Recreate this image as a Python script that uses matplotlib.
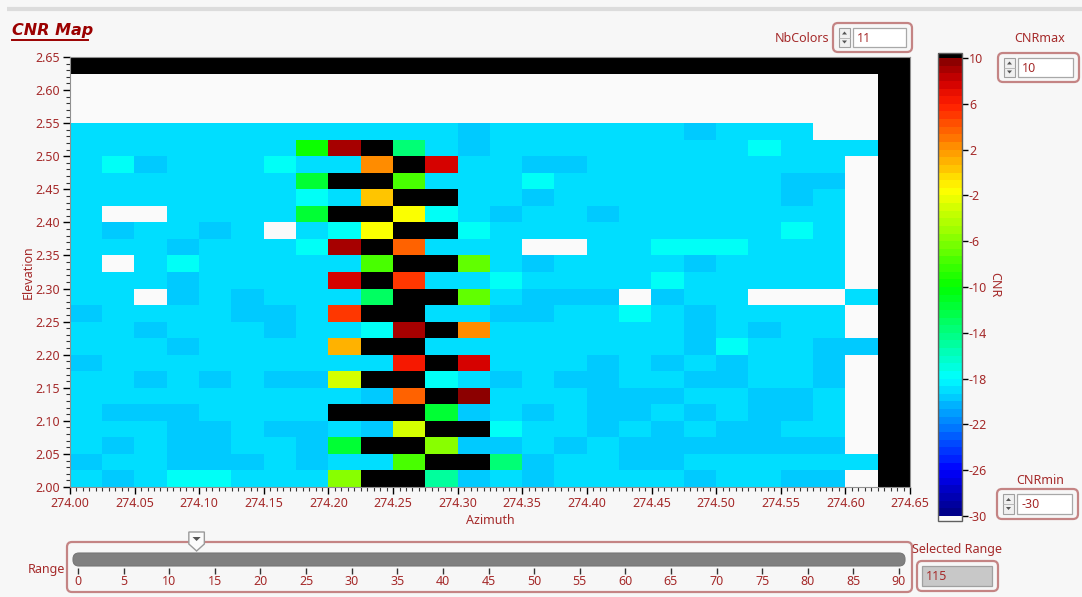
import numpy as np
import matplotlib
matplotlib.use("Agg")
import matplotlib.pyplot as plt
from matplotlib.colors import LinearSegmentedColormap, ListedColormap, Normalize
from matplotlib.patches import FancyBboxPatch, Rectangle, Polygon
from matplotlib.ticker import MultipleLocator, FormatStrFormatter

plt.rcParams['font.family'] = ['Noto Sans', 'DejaVu Sans']

# ========= DATA =========
azimuth_range = (274.00, 274.65)
elevation_range = (2.00, 2.65)
cnr_min, cnr_max = -30, 10
nb_colors = 11
range_value = 13
selected_range = 115
range_ticks = list(range(0, 95, 5))
cbar_ticks = [10, 6, 2, -2, -6, -10, -14, -18, -22, -26, -30]

# CNR value for each cell code (K = above CNRmax, W = below CNRmin)
cnr_codes = {
    'c': -19.0, 'b': -20.0, 'C': -18.0,
    'R': 9.0, 'D': 9.6, 'r': 7.5, 'E': 6.0, 'e': 5.2, 'o': 3.8, 'O': 2.0,
    'a': 1.0, 'g': 0.0, 'y': -1.5, 'l': -3.0, 'L': -5.5, 'm': -7.0,
    'M': -8.0, 'G': -10.0, 'h': -12.0, 's': -13.0, 'S': -14.0, 'T': -15.0,
    'K': 99.0, 'W': -99.0,
}

# scan rows, elevation 2.550 (top) down to 2.000, azimuth 274.000 -> 274.625
cnr_rows = [
    "ccccccccccccbccccccbcccWW",
    "cccccccGRKScbccccccccCccc",
    "cCbcccCccOKrccbbccccccccW",
    "ccccccchKKMcccCcccccccbbW",
    "cccccccCcgKKccbcccccccbcW",
    "cWWcccchKKyCcbccbcccccccW",
    "cbccbcWcCyKKCcccccccccCcW",
    "cccbcccCRKocccWWccCCCcccW",
    "cWcCcccccMKKmcbccccbccccW",
    "cccbccccrKeccCccccCcccccW",
    "ccWbcbcccsKKmcbbbWbccWWWc",
    "bccccbbceKKccbbccCcbccccW",
    "ccbcccbccCRKOccccccbcbccW",
    "cccbccccaKKccccccccbCccbb",
    "bcccccccccEKrcccbcbcbccbW",
    "ccbcbcbblKKCcbcbbccbbccbW",
    "cccccccccboKDcccbbbccbbcW",
    "cbbbccccKKKhbcbcbbcbcbbcW",
    "cccbbcbbcblKKCccbcbcbbccW",
    "cbcbbccbhKKLbbcbcbbbbbbbW",
    "bccbbbcbccMKKSbccbbcccccc",
    "cbcCCcccLKKTbcbccccbccbbW",
]

scan = np.array([[cnr_codes[ch] for ch in row] for row in cnr_rows])

# full 26 x 26 map: empty rows above the scan, saturated border row/column
grid = np.full((26, 26), cnr_codes['K'])
grid[1:4, :25] = cnr_codes['W']
grid[4:, :25] = scan

# ========= COLOURS =========
RED_TXT = '#a52a2a'
BORDER = '#c48484'

cmap_nodes = [
    (-30, '#000080'), (-26, '#0000ff'), (-22, '#0080ff'), (-18, '#00ffff'),
    (-14, '#00ff80'), (-10, '#00ff00'), (-6, '#80ff00'), (-1.5, '#ffff00'),
    (2, '#ff9600'), (6, '#ff1e00'), (8, '#d20000'), (10, '#800000'),
]
base = LinearSegmentedColormap.from_list(
    'cnr', [((v - cnr_min) / (cnr_max - cnr_min), c) for v, c in cmap_nodes])
cmap = ListedColormap(base((np.arange(60) + 0.5) / 60))
cmap.set_over('black')
cmap.set_under('#fafafa')
norm = Normalize(vmin=cnr_min, vmax=cnr_max)

# ========= FIGURE =========
W, H = 1082, 597
fig = plt.figure(figsize=(W / 100, H / 100), dpi=100, facecolor='#f7f7f7')


def frac(x0, y0, x1, y1):
    return [x0 / W, 1 - y1 / H, (x1 - x0) / W, (y1 - y0) / H]


# ---- intensity map ----
ax = fig.add_axes(frac(70, 57, 910, 487))
im = ax.imshow(grid, cmap=cmap, norm=norm, aspect='auto', interpolation='nearest',
               extent=[azimuth_range[0], azimuth_range[1],
                       elevation_range[0], elevation_range[1]])
ax.set_xlim(*azimuth_range)
ax.set_ylim(*elevation_range)
ax.xaxis.set_major_locator(MultipleLocator(0.05))
ax.xaxis.set_minor_locator(MultipleLocator(0.005))
ax.yaxis.set_major_locator(MultipleLocator(0.05))
ax.yaxis.set_minor_locator(MultipleLocator(0.01))
ax.xaxis.set_major_formatter(FormatStrFormatter('%.2f'))
ax.yaxis.set_major_formatter(FormatStrFormatter('%.2f'))
ax.tick_params(which='major', length=5, width=1, color='black',
               labelcolor=RED_TXT, labelsize=9, pad=2)
ax.tick_params(which='minor', length=3, width=0.8, color='#333333')
for s in ax.spines.values():
    s.set_color('#909090')
    s.set_linewidth(0.8)
ax.set_xlabel('Azimuth', color=RED_TXT, fontsize=9, labelpad=3)
ax.set_ylabel('Elevation', color=RED_TXT, fontsize=9, labelpad=1)

# ---- colour scale ----
cax = fig.add_axes(frac(938, 53, 962, 521))
cb = fig.colorbar(im, cax=cax, extend='both', extendrect=True,
                  extendfrac=0.011, ticks=cbar_ticks)
cb.outline.set_edgecolor('#606060')
cb.outline.set_linewidth(1.0)
cax.tick_params(length=4, width=1, color='black', labelcolor=RED_TXT,
                labelsize=9, pad=1)
cax.set_yticklabels([str(t) for t in cbar_ticks])
fig.text(995 / W, 1 - 285 / H, 'CNR', rotation=270, color=RED_TXT,
         fontsize=9, ha='center', va='center')

# ---- front panel decorations (pixel coordinates) ----
ui = fig.add_axes([0, 0, 1, 1], zorder=-1)
ui.set_xlim(0, W)
ui.set_ylim(H, 0)
ui.axis('off')

ui.plot([7, W], [9, 9], color='#dcdcdc', lw=3, solid_capstyle='butt')
ui.text(12, 31, 'CNR Map', color='#9b0000', fontsize=11.5, fontweight='bold',
        fontstyle='italic', family='DejaVu Sans', va='center', ha='left')
ui.plot([12, 88], [39.5, 39.5], color='#9b0000', lw=1.4)


def spin_box(x0, y0, x1, y1, value):
    ui.add_patch(FancyBboxPatch((x0, y0), x1 - x0, y1 - y0,
                                boxstyle='round,pad=0,rounding_size=5',
                                fc='#f7f7f7', ec=BORDER, lw=1.6))
    # up/down buttons
    bx0, by0, by1 = x0 + 6, y0 + 5, y1 - 5
    ui.add_patch(Rectangle((bx0, by0), 11, by1 - by0, fc='#f0f0f0',
                           ec='#a0a0a0', lw=0.8))
    mid = (by0 + by1) / 2
    ui.plot([bx0, bx0 + 11], [mid, mid], color='#b0b0b0', lw=0.6)
    ui.add_patch(Polygon([[bx0 + 3, mid - 3], [bx0 + 8, mid - 3],
                          [bx0 + 5.5, mid - 6]], fc='#555555', ec='none'))
    ui.add_patch(Polygon([[bx0 + 3, mid + 3], [bx0 + 8, mid + 3],
                          [bx0 + 5.5, mid + 6]], fc='#555555', ec='none'))
    # entry field
    ui.add_patch(Rectangle((x0 + 20, y0 + 5), x1 - x0 - 26, y1 - y0 - 10,
                           fc='white', ec='#a8a8a8', lw=0.9))
    ui.text(x0 + 24, (y0 + y1) / 2 + 0.5, str(value), color=RED_TXT, fontsize=9,
            va='center', ha='left')


ui.text(829, 39, 'NbColors', color=RED_TXT, fontsize=9, ha='right', va='center')
spin_box(833, 23, 912, 52, nb_colors)
ui.text(1040, 39, 'CNRmax', color=RED_TXT, fontsize=9, ha='center', va='center')
spin_box(998, 53, 1079, 82, cnr_max)
ui.text(1040, 480, 'CNRmin', color=RED_TXT, fontsize=9, ha='center', va='center')
spin_box(997, 489, 1078, 519, cnr_min)

# range slider frame and track
ui.add_patch(FancyBboxPatch((67, 542), 845, 50,
                            boxstyle='round,pad=0,rounding_size=5',
                            fc='#f7f7f7', ec=BORDER, lw=1.6))
ui.add_patch(FancyBboxPatch((73, 553), 832, 13,
                            boxstyle='round,pad=0,rounding_size=6',
                            fc='#808080', ec='#777777', lw=0.8))
ui.text(46, 570, 'Range', color=RED_TXT, fontsize=9, ha='center', va='center')

# selected range indicator
ui.text(957, 549, 'Selected Range', color=RED_TXT, fontsize=9,
        ha='center', va='center')
ui.add_patch(FancyBboxPatch((917, 561), 81, 30,
                            boxstyle='round,pad=0,rounding_size=5',
                            fc='#f7f7f7', ec=BORDER, lw=1.6))
ui.add_patch(Rectangle((922, 566), 70, 20, fc='#c8c8c8', ec='#a0a0a0', lw=0.9))
ui.text(926, 576.5, str(selected_range), color=RED_TXT, fontsize=9,
        ha='left', va='center')

# slider scale
sl = fig.add_axes(frac(78, 528, 899, 574))
sl.set_xlim(0, 90)
sl.set_ylim(574, 528)
sl.patch.set_visible(False)
for s in sl.spines.values():
    s.set_visible(False)
sl.set_yticks([])
sl.set_xticks(range_ticks)
sl.tick_params(axis='x', direction='in', length=4, width=1, color='#333333',
               labelcolor=RED_TXT, labelsize=9, pad=1)
sl.add_patch(Polygon([[range_value - 0.85, 532], [range_value + 0.85, 532],
                      [range_value + 0.85, 544], [range_value, 551],
                      [range_value - 0.85, 544]],
                     fc='#fbfbfb', ec='#9a9a9a', lw=1.0, closed=True))
sl.add_patch(Polygon([[range_value - 0.45, 537], [range_value + 0.45, 537],
                      [range_value, 541]], fc='#555555', ec='none'))

fig.savefig('out.png', dpi=100, facecolor=fig.get_facecolor())
